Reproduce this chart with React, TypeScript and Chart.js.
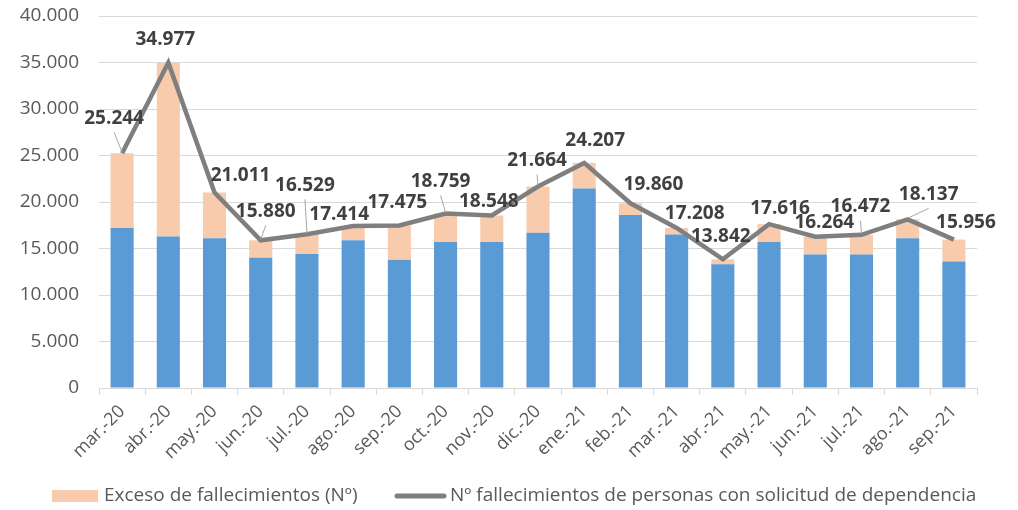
import React, { useEffect, useRef } from "react";
import { Chart, registerables } from "chart.js";

Chart.register(...registerables);

const months = [
  "mar.-20", "abr.-20", "may.-20", "jun.-20", "jul.-20", "ago.-20", "sep.-20",
  "oct.-20", "nov.-20", "dic.-20", "ene.-21", "feb.-21", "mar.-21", "abr.-21",
  "may.-21", "jun.-21", "jul.-21", "ago.-21", "sep.-21",
];

const expectedDeaths = [
  17200, 16300, 16100, 14000, 14400, 15900, 13800, 15700, 15700, 16700,
  21450, 18600, 16500, 13300, 15700, 14350, 14350, 16100, 13600,
];

const excessDeaths = [
  8040, 18680, 4910, 1880, 2130, 1510, 3680, 3060, 2850, 4960,
  2760, 1260, 710, 540, 1920, 1910, 2120, 2040, 2360,
];

const dependencyDeaths = [
  25244, 34977, 21011, 15880, 16529, 17414, 17475, 18759, 18548, 21664,
  24207, 19860, 17208, 13842, 17616, 16264, 16472, 18137, 15956,
];

const yTicks = [0, 5000, 10000, 15000, 20000, 25000, 30000, 35000, 40000];

const excessLabel = "Exceso de fallecimientos (Nº)";
const lineLabel = "Nº fallecimientos de personas con solicitud de dependencia";

// label placement offsets relative to each line point (styling)
const labelDx = [-8, -3, 26, 5, -2, -14, -2, -5, -3, -1, 11, 23, 18, -2, 11, 9, -1, 21, 12];
const labelDy = [-35, -23, -17, -29, -49, -11, -23, -32, -14, -26, -22, -19, -14, -23, -16, -14, -28, -25, -17];
const leaderIdx = [0, 3, 4, 7, 9, 16, 17];

const FONT = "'Open Sans', sans-serif";

function fmt(v: number): string {
  return String(Math.round(v)).replace(/\B(?=(\d{3})+(?!\d))/g, ".");
}

export default function App() {
  const ref = useRef<HTMLCanvasElement>(null);

  useEffect(() => {
    if (!ref.current) return;

    const labelPlugin = {
      id: "lineLabels",
      afterDatasetsDraw(chart: any) {
        const ctx = chart.ctx;
        const meta = chart.getDatasetMeta(2);
        ctx.save();
        meta.data.forEach((pt: any, i: number) => {
          const lx = pt.x + labelDx[i];
          const ly = pt.y + labelDy[i];
          if (leaderIdx.includes(i)) {
            ctx.strokeStyle = "#a6a6a6";
            ctx.lineWidth = 1;
            ctx.beginPath();
            ctx.moveTo(lx, ly + 14);
            ctx.lineTo(pt.x, pt.y - 1);
            ctx.stroke();
          }
          ctx.font = `bold 19px ${FONT}`;
          ctx.fillStyle = "#404040";
          ctx.textAlign = "center";
          ctx.textBaseline = "middle";
          ctx.fillText(fmt(dependencyDeaths[i]), lx, ly);
        });
        ctx.restore();
      },
      afterDraw(chart: any) {
        const ctx = chart.ctx;
        ctx.save();
        const ly = 496;
        ctx.fillStyle = "#f8cbad";
        ctx.fillRect(52, ly - 6, 46, 12);
        ctx.font = `19px ${FONT}`;
        ctx.fillStyle = "#595959";
        ctx.textAlign = "left";
        ctx.textBaseline = "middle";
        ctx.fillText(excessLabel, 104, ly);
        ctx.strokeStyle = "#7f7f7f";
        ctx.lineWidth = 5;
        ctx.lineCap = "round";
        ctx.beginPath();
        ctx.moveTo(397, ly);
        ctx.lineTo(444, ly);
        ctx.stroke();
        ctx.fillText(lineLabel, 450, ly);
        ctx.restore();
      },
    };

    const chart = new Chart(ref.current, {
      type: "bar",
      data: {
        labels: months,
        datasets: [
          {
            type: "bar",
            label: "Fallecimientos esperados",
            data: expectedDeaths,
            backgroundColor: "#5b9bd5",
            borderWidth: 0,
            barPercentage: 0.5,
            categoryPercentage: 1,
            order: 1,
          },
          {
            type: "bar",
            label: excessLabel,
            data: excessDeaths,
            backgroundColor: "#f8cbad",
            borderWidth: 0,
            barPercentage: 0.5,
            categoryPercentage: 1,
            order: 2,
          },
          {
            type: "line",
            label: lineLabel,
            data: dependencyDeaths,
            borderColor: "#7f7f7f",
            backgroundColor: "#7f7f7f",
            borderWidth: 4.5,
            pointRadius: 0,
            tension: 0,
            order: 0,
          },
        ],
      },
      options: {
        animation: false,
        responsive: false,
        layout: { autoPadding: false, padding: { top: 16, right: 41, bottom: 0, left: 0 } },
        plugins: {
          legend: { display: false },
          tooltip: { enabled: false },
        },
        scales: {
          x: {
            stacked: true,
            grid: {
              display: true,
              drawOnChartArea: false,
              drawTicks: true,
              tickLength: 7,
              color: "#d9d9d9",
              offset: true,
            },
            border: { display: true, color: "#d9d9d9", width: 1 },
            ticks: {
              minRotation: 45,
              maxRotation: 45,
              autoSkip: false,
              padding: 6,
              color: "#595959",
              font: { family: FONT, size: 18 },
            },
            afterFit(scale: any) {
              scale.height = 122;
            },
          },
          y: {
            stacked: true,
            min: 0,
            max: 40000,
            afterBuildTicks(scale: any) {
              scale.ticks = yTicks.map((v) => ({ value: v }));
            },
            grid: {
              color: "#d9d9d9",
              lineWidth: 1,
              drawTicks: true,
              tickLength: 20,
              tickColor: "rgba(0,0,0,0)",
            },
            border: { display: false },
            ticks: {
              padding: 0,
              color: "#595959",
              font: { family: FONT, size: 19 },
              callback: (v: any) => fmt(Number(v)),
            },
            afterFit(scale: any) {
              scale.width = 99;
            },
          },
        },
      },
      plugins: [labelPlugin],
    });

    return () => chart.destroy();
  }, []);

  return (
    <div style={{ position: "absolute", left: 0, top: 0, width: 1018, height: 510, background: "#fff" }}>
      <canvas ref={ref} width={1018} height={510} />
    </div>
  );
}
